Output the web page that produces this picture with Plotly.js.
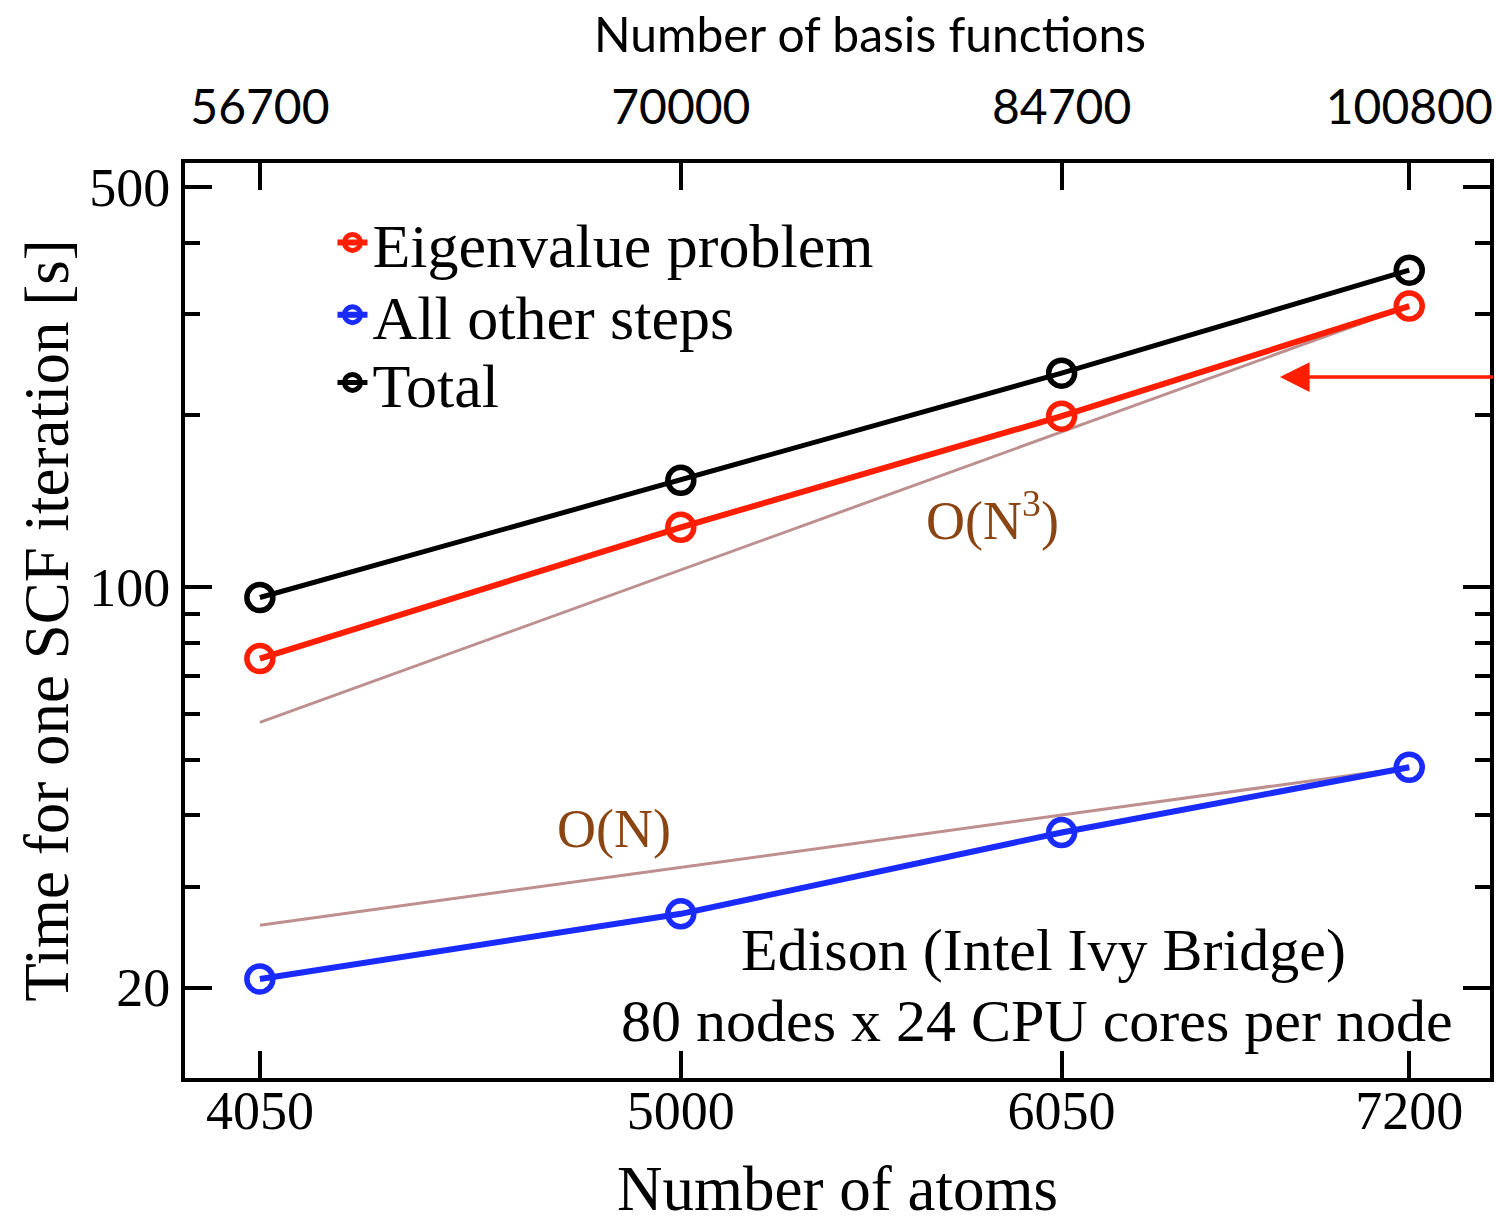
<!DOCTYPE html>
<html>
<head>
<meta charset="utf-8">
<script src="https://cdn.plot.ly/plotly-3.0.1.min.js"></script>
<style>html,body{margin:0;padding:0;background:#fff}#chart{width:1496px;height:1224px}</style>
</head>
<body>
<div id="chart"></div>
<script>
// ---- data ----
const atoms = [4050, 5000, 6050, 7200];
const basisFunctions = ['56700', '70000', '84700', '100800'];
const eigenvalue = [75.1, 127.3, 199, 310];
const otherSteps = [20.7, 26.9, 37.3, 48.5];
const total = [96.0, 153.8, 236.6, 358];
const guideN3X = [4050, 7200];
const guideN3 = [58.1, 310];
const guideNX = [4050, 7200];
const guideN = [25.7, 48.5];
const yTickVals = [20, 100, 500];
const yMinorVals = [30, 40, 50, 60, 70, 80, 90, 200, 300, 400];
const seriesNames = ['Eigenvalue problem', 'All other steps', 'Total'];

const serif = 'Liberation Serif, Times New Roman, serif';
const sans = 'Lato, Open Sans, sans-serif';
const guideColor = '#BD8F8F';
const brown = '#8B4513';
const red = '#FF1E00';
const blue = '#1A2BFF';

const xRange = [Math.log10(3901), Math.log10(7497)];
const yRange = [Math.log10(13.9), Math.log10(551)];

const markerStyle = (c) => ({symbol: 'circle-open', size: 26, color: c, line: {color: c, width: 5.5}});

const traces = [
  {x: guideN3X, y: guideN3, mode: 'lines', line: {color: guideColor, width: 3}, showlegend: false, hoverinfo: 'skip'},
  {x: guideNX, y: guideN, mode: 'lines', line: {color: guideColor, width: 3}, showlegend: false, hoverinfo: 'skip'},
  {x: atoms, y: otherSteps, name: seriesNames[1], mode: 'lines+markers', line: {color: blue, width: 6}, marker: markerStyle(blue), legend: 'legend2'},
  {x: atoms, y: eigenvalue, name: seriesNames[0], mode: 'lines+markers', line: {color: red, width: 6}, marker: markerStyle(red), legend: 'legend'},
  {x: atoms, y: total, name: seriesNames[2], mode: 'lines+markers', line: {color: '#000', width: 5}, marker: markerStyle('#000'), legend: 'legend3'},
  {x: atoms, y: total, xaxis: 'x2', mode: 'markers', opacity: 0, showlegend: false, hoverinfo: 'skip'}
];

const legendBase = (y) => ({
  x: 0.113, xanchor: 'left', y: y, yanchor: 'middle',
  bgcolor: 'rgba(0,0,0,0)', borderwidth: 0,
  font: {family: serif, size: 62, color: '#000'}
});

const layout = {
  width: 1496, height: 1224,
  margin: {l: 185, r: 6, t: 163, b: 146},
  paper_bgcolor: '#fff', plot_bgcolor: '#fff',
  showlegend: true,
  legend: legendBase(0.913),
  legend2: legendBase(0.834),
  legend3: legendBase(0.760),
  xaxis: {
    type: 'log', range: xRange,
    tickmode: 'array', tickvals: atoms, ticktext: atoms.map(String),
    ticks: 'inside', ticklen: 27, tickwidth: 4, tickcolor: '#000',
    showline: true, linewidth: 4, linecolor: '#000', mirror: 'ticks',
    showgrid: false, zeroline: false,
    ticklabelstandoff: -18,
    tickfont: {family: serif, size: 54, color: '#000'},
    title: {text: 'Number of atoms', font: {family: serif, size: 63, color: '#000'}, standoff: 49}
  },
  xaxis2: {
    type: 'log', range: xRange, overlaying: 'x', side: 'top', anchor: 'y',
    tickmode: 'array', tickvals: atoms, ticktext: basisFunctions,
    ticks: '', showline: false, showgrid: false, zeroline: false,
    tickfont: {family: sans, size: 48, color: '#000'},
    ticklabelstandoff: 28
  },
  yaxis: {
    type: 'log', range: yRange,
    tickmode: 'array', tickvals: yTickVals, ticktext: yTickVals.map(String),
    ticks: 'inside', ticklen: 27, tickwidth: 4, tickcolor: '#000',
    minor: {tickmode: 'array', tickvals: yMinorVals, ticks: 'inside', ticklen: 15, tickwidth: 4, tickcolor: '#000', showgrid: false},
    showline: true, linewidth: 4, linecolor: '#000', mirror: 'ticks',
    showgrid: false, zeroline: false,
    tickfont: {family: serif, size: 54, color: '#000'},
    title: {text: 'Time for one SCF iteration [s]', font: {family: serif, size: 63, color: '#000'}, standoff: 1}
  },
  annotations: [
    {xref: 'paper', yref: 'paper', x: 0.525, y: 1.141, text: 'Number of basis functions', showarrow: false,
     font: {family: sans, size: 48, color: '#000'}, xanchor: 'center', yanchor: 'middle'},
    {xref: 'paper', yref: 'paper', x: 0.619, y: 0.614, text: 'O(N<sup>3</sup>)', showarrow: false,
     font: {family: serif, size: 54, color: brown}, xanchor: 'center', yanchor: 'middle'},
    {xref: 'paper', yref: 'paper', x: 0.329, y: 0.272, text: 'O(N)', showarrow: false,
     font: {family: serif, size: 54, color: brown}, xanchor: 'center', yanchor: 'middle'},
    {xref: 'paper', yref: 'paper', x: 0.6575, y: 0.140, text: 'Edison (Intel Ivy Bridge)', showarrow: false,
     font: {family: serif, size: 60, color: '#000'}, xanchor: 'center', yanchor: 'middle'},
    {xref: 'paper', yref: 'paper', x: 0.653, y: 0.0623, text: '80 nodes x 24 CPU cores per node', showarrow: false,
     font: {family: serif, size: 60, color: '#000'}, xanchor: 'center', yanchor: 'middle'},
    {xref: 'paper', yref: 'paper', x: 0.839, y: 0.766, text: '', showarrow: true,
     ax: 215, ay: 0, arrowhead: 2, arrowsize: 1.7, arrowwidth: 3.5, arrowcolor: red}
  ]
};

Plotly.newPlot('chart', traces, layout, {displayModeBar: false, staticPlot: true});
</script>
</body>
</html>
